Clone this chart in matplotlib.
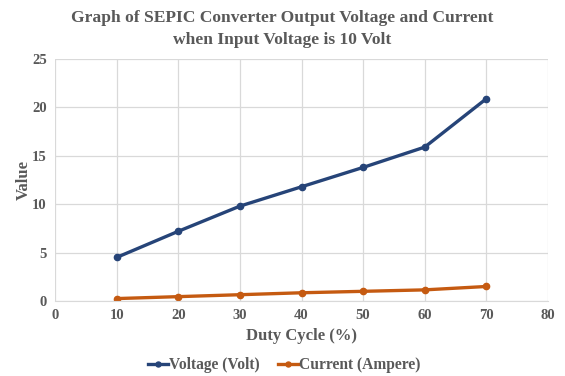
import matplotlib
matplotlib.use("Agg")
import matplotlib.pyplot as plt

duty_cycle = [10, 20, 30, 40, 50, 60, 70]
voltage = [4.5, 7.2, 9.8, 11.8, 13.8, 15.9, 20.9]
current = [0.25, 0.45, 0.65, 0.85, 1.0, 1.15, 1.5]

plt.rcParams['font.family'] = ['Liberation Serif', 'DejaVu Serif']
text_color = '#595959'

W, H = 565, 376
fig = plt.figure(figsize=(W / 100, H / 100), dpi=100)
ax = fig.add_axes([55 / W, (H - 301) / H, (548 - 55) / W, (301 - 59) / H])

ax.plot(duty_cycle, voltage, color='#264478', lw=2.4, marker='o', ms=4.5,
        label='Voltage (Volt)')
ax.plot(duty_cycle, current, color='#C55A11', lw=2.4, marker='o', ms=4.5,
        label='Current (Ampere)')

ax.set_xlim(0, 80)
ax.set_ylim(0, 25)
ax.set_xticks(range(0, 81, 10))
ax.set_yticks(range(0, 26, 5))
ax.grid(True, color='#d9d9d9', lw=0.9)
ax.set_axisbelow(True)
for side in ['top', 'right', 'left']:
    ax.spines[side].set_visible(False)
ax.spines['bottom'].set_color('#d9d9d9')
ax.tick_params(length=0, colors=text_color, labelsize=10.5, pad=6)
for lbl in ax.get_xticklabels() + ax.get_yticklabels():
    lbl.set_fontweight('bold')

ax.set_xlabel('Duty Cycle (%)', fontsize=12, fontweight='bold', color=text_color, labelpad=4)
ax.set_ylabel('Value', fontsize=12, fontweight='bold', color=text_color)
ax.yaxis.set_label_coords((32 - 55) / (548 - 55), 0.5)

fig.text(0.5, 1 - 18 / H, 'Graph of SEPIC Converter Output Voltage and Current',
         ha='center', va='center', fontsize=12.6, fontweight='bold', color=text_color)
fig.text(0.5, 1 - 40 / H, 'when Input Voltage is 10 Volt',
         ha='center', va='center', fontsize=12.6, fontweight='bold', color=text_color)

leg = fig.legend(loc='center', bbox_to_anchor=(284 / W, 1 - 365 / H), ncol=2, frameon=False,
                 handlelength=1.3, handletextpad=0.05, columnspacing=1.2,
                 markerscale=0.8, prop={'weight': 'bold', 'size': 11.2})
for t in leg.get_texts():
    t.set_color(text_color)

fig.savefig('out.png', dpi=100)
